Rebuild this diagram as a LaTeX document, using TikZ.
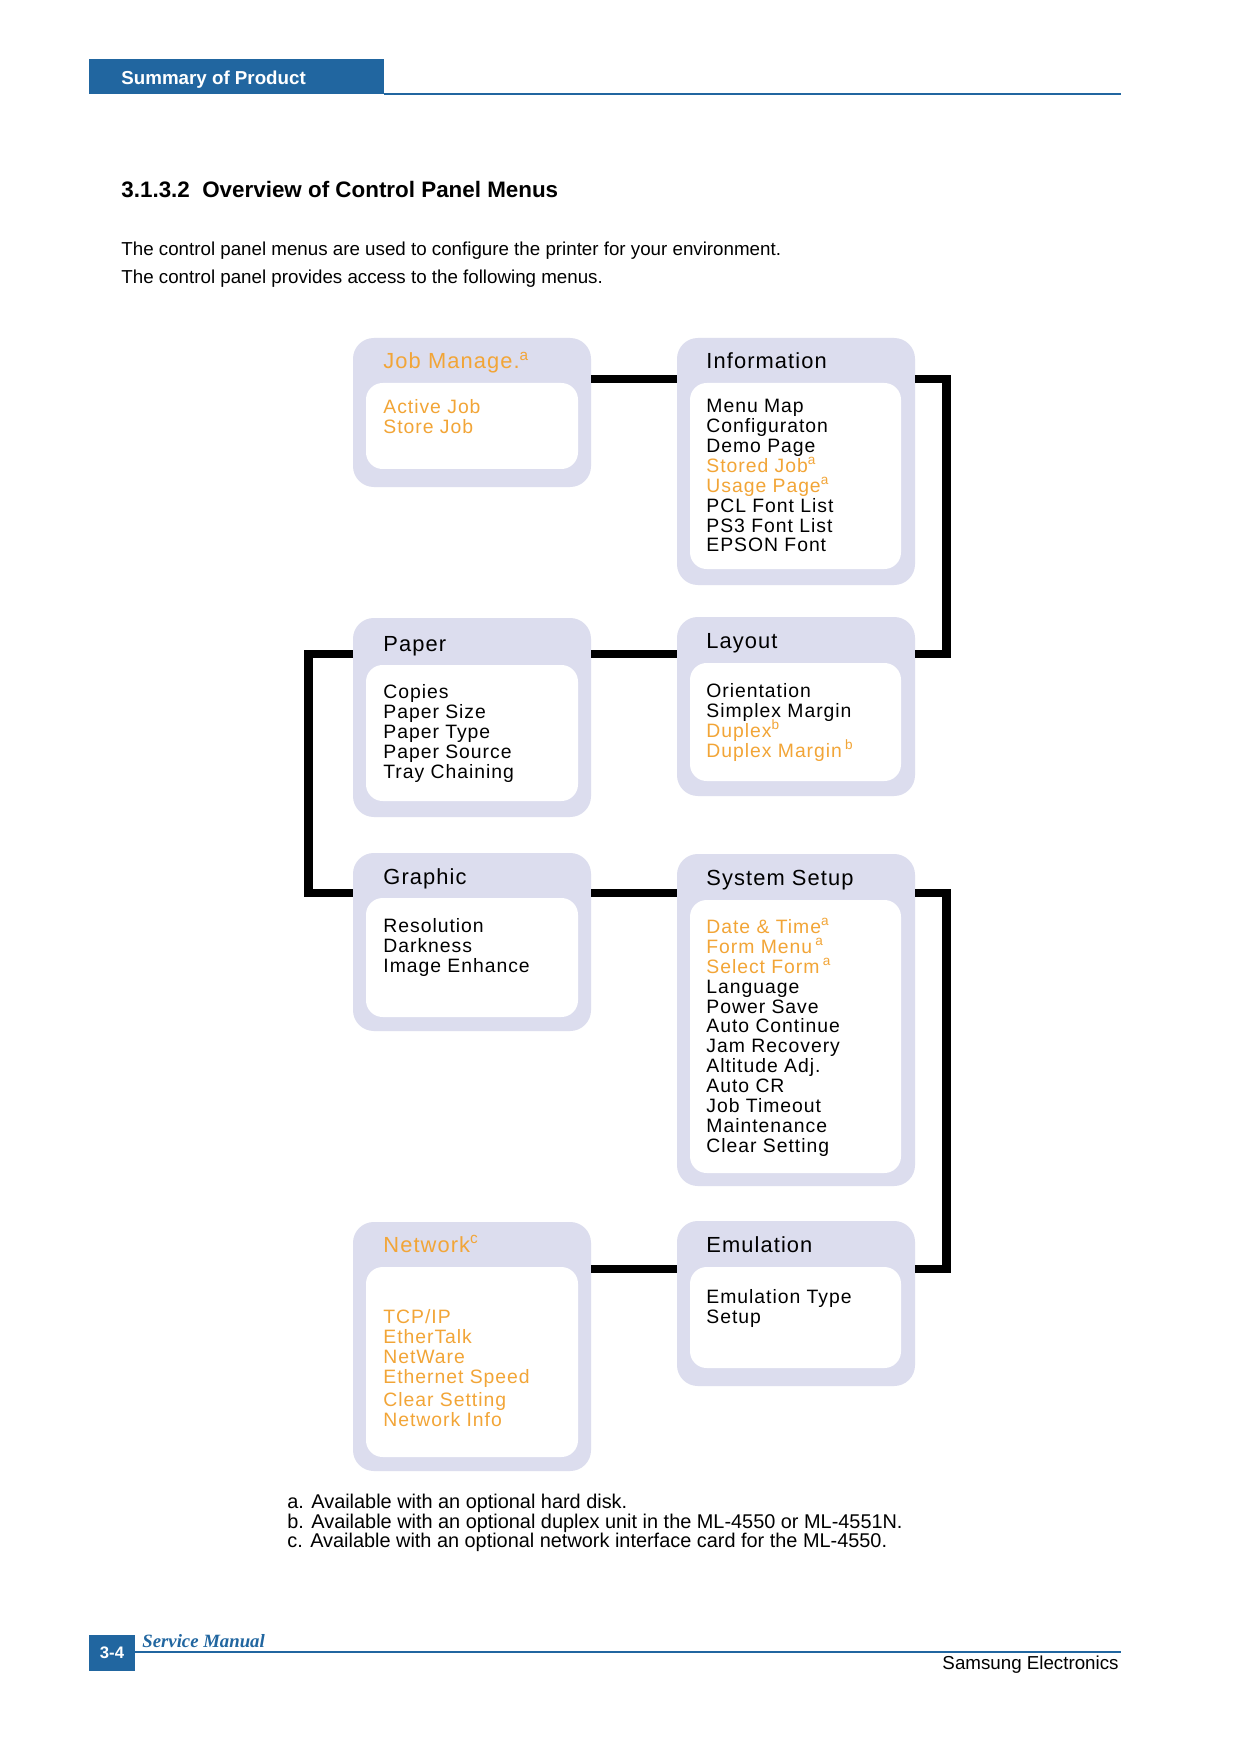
\documentclass[tikz,border=0pt]{standalone}
\usepackage{fontspec}
\setmainfont{Liberation Sans}
\newfontfamily\menufont[LetterSpace=5]{Liberation Sans}
\newfontfamily\manualfont{Liberation Serif}
\usetikzlibrary{fit}

\definecolor{pageblue}{RGB}{33,102,160}
\definecolor{menuorange}{RGB}{242,165,55}
\definecolor{menulilac}{RGB}{220,221,238}

\newcommand{\opt}[1]{\textcolor{menuorange}{#1}}
\newcommand{\fnmark}[1]{\smash{\textsuperscript{#1}}}

\begin{document}
\begin{tikzpicture}[
                x=0.48006pt, y=-0.48006pt,
                outerbox/.style = {
                    fill=menulilac,
                    rounded corners=10pt,
                    inner sep=0pt,
                    outer sep=0pt
                },
                innerbox/.style = {
                    fill=white,
                    rounded corners=8pt,
                    inner sep=0pt,
                    outer sep=0pt
                },
                boxtitle/.style = {anchor=base west, inner sep=0pt, font=\menufont\fontsize{10.5}{12}\selectfont},
                boxitems/.style = {anchor=north west, inner sep=0pt, align=left, font=\menufont\fontsize{9.3}{9.55}\selectfont},
                link/.style = {line width=4.1pt},
                plain/.style = {anchor=base west, inner sep=0pt}
            ]
            \path[fill=white] (0,0) rectangle (1240,1754);
            % header
            \node[fill=pageblue, inner sep=0pt, outer sep=0pt, fit={(89,59) (384,94)}] (tab) {};
            \node[plain, text=white, font=\bfseries\fontsize{9}{11}\selectfont] (tabtext) at (121,85) {Summary of Product};
            \coordinate (headend) at (1121,94);
            \draw[pageblue, line width=0.7pt] (tab.south east) -- (headend);
            % 
            \node[plain, font=\bfseries\fontsize{10.75}{12}\selectfont] (title) at (121,198) {3.1.3.2\ \ Overview of Control Panel Menus};
            \node[plain, font=\fontsize{9}{11}\selectfont] (intro1) at (121,256) {The control panel menus are used to configure the printer for your environment.};
            \node[plain, font=\fontsize{9}{11}\selectfont] (intro2) at (121,284) {The control panel provides access to the following menus.};
            % 
            % boxes
            \node[outerbox, fit={(353,338) (591,487)}] (jobmgr) {};
            \node[innerbox, fit={(366,383) (578,469)}] (jobmgr-in) {};
            \node[boxtitle, text=menuorange] (jobmgr-title) at (383,369) {Job Manage.\fnmark{a}};
            \node[boxitems, text=menuorange] (jobmgr-items) at (383,399) {Active Job\\Store Job};
            % 
            \node[outerbox, fit={(677,338) (915,585)}] (info) {};
            \node[innerbox, fit={(690,383) (901,569)}] (info-in) {};
            \node[boxtitle] (info-title) at (706,369) {Information};
            \node[boxitems] (info-items) at (706,399) {Menu Map\\Configuraton\\Demo Page\\\opt{Stored Job\fnmark{a}}\\\opt{Usage Page\fnmark{a}}\\PCL Font List\\PS3 Font List\\EPSON Font};
            % 
            \node[outerbox, fit={(353,618) (591,817)}] (paper) {};
            \node[innerbox, fit={(366,665) (578,801)}] (paper-in) {};
            \node[boxtitle] (paper-title) at (383,651) {Paper};
            \node[boxitems] (paper-items) at (383,684) {Copies\\Paper Size\\Paper Type\\Paper Source\\Tray Chaining};
            % 
            \node[outerbox, fit={(677,617) (915,796)}] (layout) {};
            \node[innerbox, fit={(690,663) (901,781)}] (layout-in) {};
            \node[boxtitle] (layout-title) at (706,648) {Layout};
            \node[boxitems] (layout-items) at (706,683) {Orientation\\Simplex Margin\\\opt{Duplex\fnmark{b}}\\\opt{Duplex Margin\,\fnmark{b}}};
            % 
            \node[outerbox, fit={(353,853) (591,1031)}] (graphic) {};
            \node[innerbox, fit={(366,898) (578,1017)}] (graphic-in) {};
            \node[boxtitle] (graphic-title) at (383,884) {Graphic};
            \node[boxitems] (graphic-items) at (383,918) {Resolution\\Darkness\\Image Enhance};
            % 
            \node[outerbox, fit={(677,854) (915,1186)}] (system) {};
            \node[innerbox, fit={(690,900) (901,1173)}] (system-in) {};
            \node[boxtitle] (system-title) at (706,885) {System Setup};
            \node[boxitems] (system-items) at (706,919) {\opt{Date \& Time\fnmark{a}}\\\opt{Form Menu\,\fnmark{a}}\\\opt{Select Form\,\fnmark{a}}\\Language\\Power Save\\Auto Continue\\Jam Recovery\\Altitude Adj.\\Auto CR\\Job Timeout\\Maintenance\\Clear Setting};
            % 
            \node[outerbox, fit={(353,1222) (591,1471)}] (network) {};
            \node[innerbox, fit={(366,1267) (578,1457)}] (network-in) {};
            \node[boxtitle, text=menuorange] (network-title) at (383,1252) {Network\fnmark{c}};
            \node[boxitems, text=menuorange] (network-items) at (383,1309) {TCP/IP\\EtherTalk\\NetWare\\Ethernet Speed\\[1.5pt]Clear Setting\\Network Info};
            % 
            \node[outerbox, fit={(677,1221) (915,1386)}] (emulation) {};
            \node[innerbox, fit={(690,1267) (901,1368)}] (emulation-in) {};
            \node[boxtitle] (emulation-title) at (706,1252) {Emulation};
            \node[boxitems] (emulation-items) at (706,1289) {Emulation Type\\Setup};
            % 
            % connectors
            \coordinate (rowA) at (0,379);
            \coordinate (rowB) at (0,654);
            \coordinate (rowC) at (0,893);
            \coordinate (rowD) at (0,1269);
            \coordinate (railR) at (946.5,0);
            \coordinate (railL) at (308.5,0);
            \draw[link] (jobmgr.east |- rowA) -- (info.west |- rowA);
            \draw[link] (info.east |- rowA) -- (railR |- rowA) -- (railR |- rowB) -- (layout.east |- rowB);
            \draw[link] (paper.east |- rowB) -- (layout.west |- rowB);
            \draw[link] (paper.west |- rowB) -- (railL |- rowB) -- (railL |- rowC) -- (graphic.west |- rowC);
            \draw[link] (graphic.east |- rowC) -- (system.west |- rowC);
            \draw[link] (system.east |- rowC) -- (railR |- rowC) -- (railR |- rowD) -- (emulation.east |- rowD);
            \draw[link] (network.east |- rowD) -- (emulation.west |- rowD);
            % 
            % notes
            \node[plain, font=\fontsize{9.55}{11}\selectfont] (note-a) at (287,1508) {a. Available with an optional hard disk.};
            \node[plain, font=\fontsize{9.55}{11}\selectfont] (note-b) at (287,1528) {b. Available with an optional duplex unit in the ML-4550 or ML-4551N.};
            \node[plain, font=\fontsize{9.55}{11}\selectfont] (note-c) at (287,1547) {c. Available with an optional network interface card for the ML-4550.};
            % 
            % footer
            \node[fill=pageblue, inner sep=0pt, outer sep=0pt, fit={(89,1635) (135,1671)}] (pagetab) {};
            \node[text=white, inner sep=0pt, font=\bfseries\fontsize{8}{10}\selectfont] (pagenum) at (pagetab) {3-4};
            \coordinate (footend) at (1121,1652);
            \draw[pageblue, line width=0.7pt] (pagetab.east |- footend) -- (footend);
            \node[plain, text=pageblue, font=\manualfont\bfseries\itshape\fontsize{9}{11}\selectfont] (manual) at (142,1647) {Service Manual};
            \node[anchor=base east, inner sep=0pt, font=\fontsize{9}{11}\selectfont] (maker) at (1119,1669) {Samsung Electronics};
        \end{tikzpicture}
\end{document}
